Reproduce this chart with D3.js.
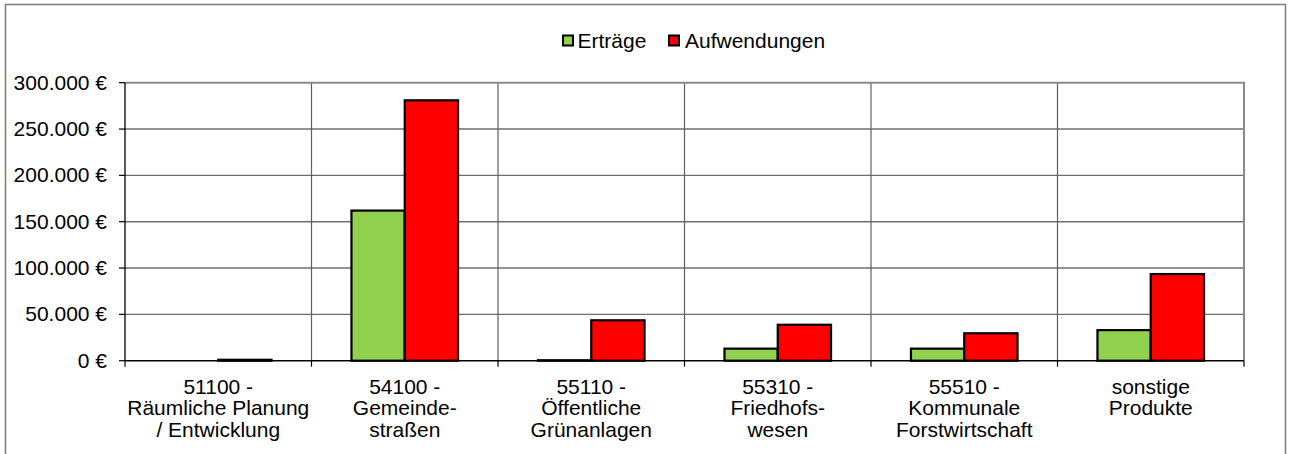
<!DOCTYPE html>
<html lang="de">
<head>
<meta charset="utf-8">
<script src="https://cdn.jsdelivr.net/npm/d3@7"></script>
<style>
  html, body { margin: 0; padding: 0; background: #fff; }
  svg { display: block; font-family: Arial, "Liberation Sans", sans-serif; }
</style>
</head>
<body>
<svg id="chart" width="1291" height="454"></svg>
<script>
// Produkte (x-axis categories), each label split into its display lines
const categories = ["51100", "54100", "55110", "55310", "55510", "sonstige"];
const categoryLines = [
  ["51100 -", "Räumliche Planung", "/ Entwicklung"],
  ["54100 -", "Gemeinde-", "straßen"],
  ["55110 -", "Öffentliche", "Grünanlagen"],
  ["55310 -", "Friedhofs-", "wesen"],
  ["55510 -", "Kommunale", "Forstwirtschaft"],
  ["sonstige", "Produkte"]
];
const seriesNames = ["Erträge", "Aufwendungen"];
const ertraege     = [0, 162000, 500, 13000, 13000, 33000];
const aufwendungen = [1000, 281000, 43600, 38800, 29600, 93500];
const yTicks = [0, 50000, 100000, 150000, 200000, 250000, 300000];
const colors = ["#92D050", "#FF0000"];

const svg = d3.select("#chart");
const W = 1291, H = 454;
const plot = { left: 125, right: 1244, top: 82.7, bottom: 360.7 };
const FONT = 20;
const SX = 1.05; // slight horizontal widening of the glyphs

const de = d3.formatLocale({ decimal: ",", thousands: ".", grouping: [3], currency: ["", " €"] });
const fmt = v => de.format(",.0f")(v) + " €";

svg.append("rect").attr("width", W).attr("height", H).attr("fill", "#fff");

// outer chart frame (runs past the bottom edge)
svg.append("rect")
  .attr("x", 5.5).attr("y", 4.5).attr("width", 1280).attr("height", 470)
  .attr("fill", "none").attr("stroke", "#7a7a7a").attr("stroke-width", 1.5);

const x = d3.scaleBand().domain(categories).range([plot.left, plot.right]).paddingInner(0).paddingOuter(0);
const xs = d3.scaleBand().domain(seriesNames).range([0, x.bandwidth()]).paddingInner(0).paddingOuter(0.75);
const y = d3.scaleLinear().domain([0, 300000]).range([plot.bottom, plot.top]);

function txt(g, x0, y0, s, anchor) {
  return g.append("text")
    .attr("transform", `translate(${x0},${y0}) scale(${SX},1)`)
    .attr("text-anchor", anchor)
    .attr("font-size", FONT)
    .attr("fill", "#000")
    .text(s);
}

// horizontal gridlines
svg.append("g").selectAll("line").data(yTicks.filter(v => v > 0 && v < 300000)).join("line")
  .attr("x1", plot.left).attr("x2", plot.right)
  .attr("y1", d => y(d)).attr("y2", d => y(d))
  .attr("stroke", "#6e6e6e").attr("stroke-width", 1.4);

// vertical category separators
const bounds = categories.slice(1).map(c => x(c));
svg.append("g").selectAll("line").data(bounds).join("line")
  .attr("x1", d => d).attr("x2", d => d)
  .attr("y1", plot.top).attr("y2", plot.bottom)
  .attr("stroke", "#5e5e5e").attr("stroke-width", 1.2);

// plot area top and right border
svg.append("path")
  .attr("d", `M${plot.left},${plot.top}H${plot.right}V${plot.bottom}`)
  .attr("fill", "none").attr("stroke", "#8a8a8a").attr("stroke-width", 2);

// bars
const rows = categories.map((c, i) => ({ c, vals: [ertraege[i], aufwendungen[i]] }));
const bars = svg.append("g");
rows.forEach(r => {
  r.vals.forEach((v, j) => {
    if (v <= 0) return;
    const x0 = x(r.c) + xs(seriesNames[j]);
    bars.append("rect")
      .attr("x", x0).attr("y", y(v))
      .attr("width", xs.bandwidth()).attr("height", Math.max(0, y(0) - y(v)))
      .attr("fill", colors[j]).attr("stroke", "#000").attr("stroke-width", 2.2);
  });
});

// axes
const yAxis = svg.append("g");
yAxis.append("line").attr("x1", plot.left).attr("x2", plot.left)
  .attr("y1", plot.top).attr("y2", plot.bottom).attr("stroke", "#000").attr("stroke-width", 1.3);
yAxis.selectAll("line.tick").data(yTicks).join("line").attr("class", "tick")
  .attr("x1", plot.left - 6).attr("x2", plot.left)
  .attr("y1", d => y(d)).attr("y2", d => y(d))
  .attr("stroke", "#000").attr("stroke-width", 1.2);
yTicks.forEach(v => txt(yAxis, 107, y(v) + 7, fmt(v), "end"));

const xAxis = svg.append("g");
xAxis.append("line").attr("x1", plot.left).attr("x2", plot.right)
  .attr("y1", plot.bottom).attr("y2", plot.bottom).attr("stroke", "#000").attr("stroke-width", 1.4);
xAxis.selectAll("line.tick").data([plot.left, ...bounds, plot.right]).join("line").attr("class", "tick")
  .attr("x1", d => d).attr("x2", d => d)
  .attr("y1", plot.bottom).attr("y2", plot.bottom + 6)
  .attr("stroke", "#000").attr("stroke-width", 1.2);
categories.forEach((c, i) => {
  const cx = x(c) + x.bandwidth() / 2;
  categoryLines[i].forEach((line, k) => txt(xAxis, cx, 394 + k * 21.3, line, "middle"));
});

// legend
const legend = svg.append("g");
const legendItems = [
  { name: seriesNames[0], color: colors[0], sx: 563, tx: 577.5 },
  { name: seriesNames[1], color: colors[1], sx: 669, tx: 685 }
];
legendItems.forEach(it => {
  legend.append("rect").attr("x", it.sx).attr("y", 35.5).attr("width", 10).attr("height", 10)
    .attr("fill", it.color).attr("stroke", "#000").attr("stroke-width", 2);
  txt(legend, it.tx, 47.5, it.name, "start");
});
</script>
</body>
</html>
